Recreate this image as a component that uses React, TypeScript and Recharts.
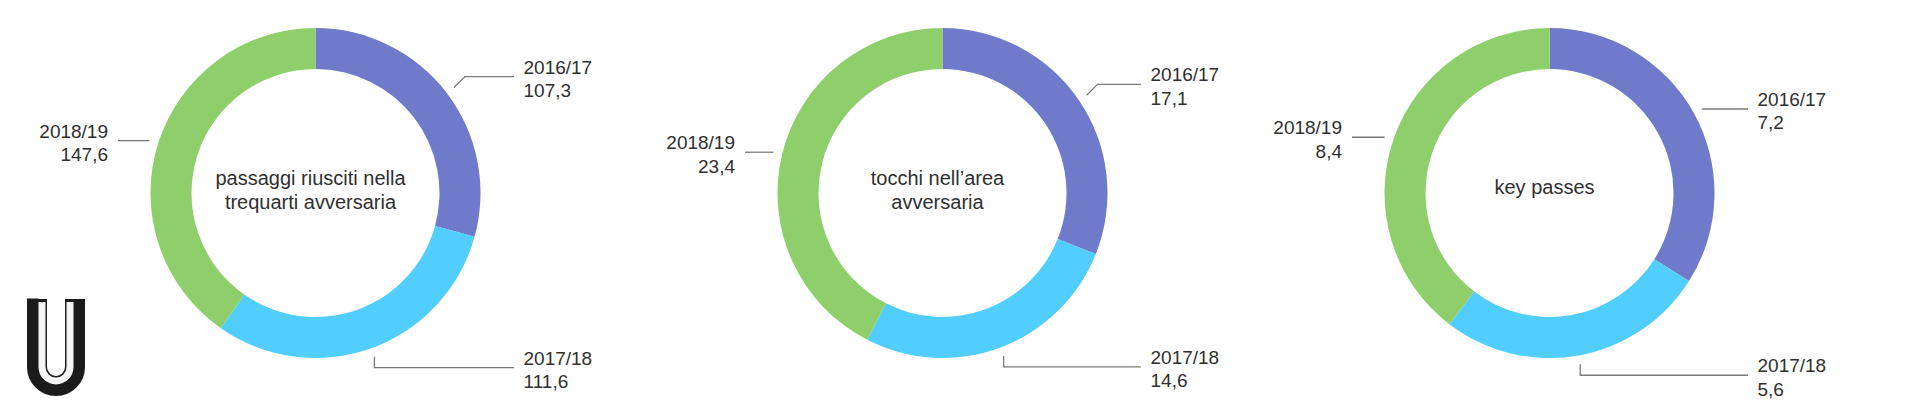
import React from "react";
import { PieChart, Pie, Cell, Label } from "recharts";

const seasons = ["2016/17", "2017/18", "2018/19"];
const passaggi = [107.3, 111.6, 147.6];
const tocchi = [17.1, 14.6, 23.4];
const keyPasses = [7.2, 5.6, 8.4];
const titles = [
  ["passaggi riusciti nella", "trequarti avversaria"],
  ["tocchi nell’area", "avversaria"],
  ["key passes"],
];
const colors = ["#6f7acb", "#51cdfe", "#8ecf6c"];

const FONT = "'Liberation Sans', Arial, Helvetica, sans-serif";
const CY = 188;
const INNER = 124;
const OUTER = 165;

const toRows = (values: number[]) => seasons.map((s, i) => ({ season: s, value: values[i] }));

const donuts = [
  { key: "passaggi", rows: toRows(passaggi), title: titles[0], cx: 310.5 },
  { key: "tocchi", rows: toRows(tocchi), title: titles[1], cx: 937.5 },
  { key: "key", rows: toRows(keyPasses), title: titles[2], cx: 1544.5 },
];

const fmt = (v: number) => v.toFixed(1).replace(".", ",");

function SliceLabel(props: any) {
  const { cx, cy, midAngle, outerRadius } = props;
  const name = props.name ?? props.payload?.season;
  const value = props.value ?? props.payload?.value;
  const rad = Math.PI / 180;
  const cos = Math.cos(midAngle * rad);
  const sin = Math.sin(midAngle * rad);
  const r0 = outerRadius + 9;
  const sx = cx + r0 * cos;
  const sy = cy - r0 * sin;
  // short bend, then a flat run to the text column
  const ex = sx + 11 * Math.round(cos);
  const ey = sy - 11 * Math.round(sin);
  const right = cos >= 0;
  const lx = right ? cx + 198.5 : cx - 197.5;
  const tx = right ? cx + 208 : cx - 207.5;
  const anchor = right ? "start" : "end";
  return (
    <g>
      <polyline
        points={`${sx},${sy} ${ex},${ey} ${lx},${ey}`}
        fill="none"
        stroke="#7a7a7a"
        strokeWidth={1.3}
      />
      <text x={tx} y={ey - 3} textAnchor={anchor} fontSize={19} fill="#2f2f2f" fontFamily={FONT}>
        {name}
      </text>
      <text x={tx} y={ey + 20.5} textAnchor={anchor} fontSize={19} fill="#2f2f2f" fontFamily={FONT}>
        {fmt(value)}
      </text>
    </g>
  );
}

function CenterTitle({ lines, cx, cy }: { lines: string[]; cx: number; cy: number }) {
  const first = lines.length > 1 ? cy - 3 : cy + 6;
  return (
    <g>
      {lines.map((l, i) => (
        <text
          key={l}
          x={cx}
          y={first + i * 24}
          textAnchor="middle"
          fontSize={20}
          fill="#2f2f2f"
          fontFamily={FONT}
        >
          {l}
        </text>
      ))}
    </g>
  );
}

function Logo() {
  return (
    <svg width={120} height={420} style={{ position: "absolute", left: 0, top: 0 }}>
      <path d="M37 299 V367 A19 19 0 0 0 75 367 V299" fill="none" stroke="#1b1b1b" strokeWidth={20} />
      <path d="M42 302 V367 A14 14 0 0 0 70 367 V302" fill="none" stroke="#f4f4f4" strokeWidth={7} />
      <path d="M27 299 L38.5 299 L42 302.5" fill="none" stroke="#1b1b1b" strokeWidth={1} />
    </svg>
  );
}

export default function App() {
  return (
    <div style={{ position: "absolute", left: 0, top: 0, width: 1920, height: 420, background: "#fff" }}>
      <PieChart width={1920} height={420}>
        {donuts.map((d) => (
          <Pie
            key={d.key}
            data={d.rows}
            dataKey="value"
            nameKey="season"
            cx={d.cx}
            cy={CY}
            innerRadius={INNER}
            outerRadius={OUTER}
            startAngle={90}
            endAngle={-270}
            stroke="none"
            label={SliceLabel}
            labelLine={false}
            isAnimationActive={false}
          >
            {d.rows.map((r, i) => (
              <Cell key={r.season} fill={colors[i]} />
            ))}
            <Label position="center" content={<CenterTitle lines={d.title} cx={d.cx} cy={CY} />} />
          </Pie>
        ))}
      </PieChart>
      <Logo />
    </div>
  );
}
